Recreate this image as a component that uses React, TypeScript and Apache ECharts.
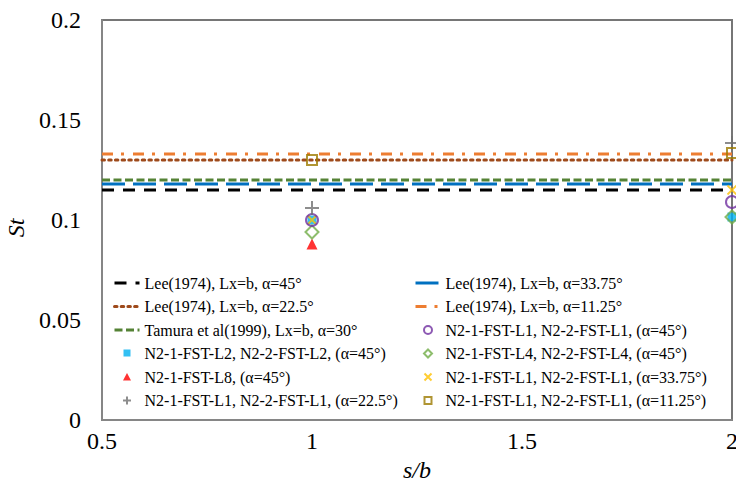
import React, { useEffect, useRef } from "react";
import * as echarts from "echarts";

// ---- data ----
const xRange = [0.5, 2];
const xTicks = [0.5, 1, 1.5, 2];
const yTicks = [0, 0.05, 0.1, 0.15, 0.2];

const leeA45 = 0.115;
const leeA3375 = 0.118;
const leeA225 = 0.13;
const leeA1125 = 0.133;
const tamuraA30 = 0.12;

const sbValues = [1, 2];
const l1a45 = [0.1, 0.109];
const l2a45 = [0.1, 0.1015];
const l4a45 = [0.094, 0.1015];
const l8a45x = [1];
const l8a45 = [0.088];
const l1a3375 = [0.1, 0.115];
const l1a225 = [0.106, 0.1385];
const l1a1125 = [0.13, 0.1335];

const names = {
  leeA45: "Lee(1974), Lx=b, α=45°",
  leeA3375: "Lee(1974), Lx=b, α=33.75°",
  leeA225: "Lee(1974), Lx=b, α=22.5°",
  leeA1125: "Lee(1974), Lx=b, α=11.25°",
  tamura: "Tamura et al(1999), Lx=b, α=30°",
  l1a45: "N2-1-FST-L1, N2-2-FST-L1, (α=45°)",
  l2a45: "N2-1-FST-L2, N2-2-FST-L2, (α=45°)",
  l4a45: "N2-1-FST-L4, N2-2-FST-L4, (α=45°)",
  l8a45: "N2-1-FST-L8, (α=45°)",
  l1a3375: "N2-1-FST-L1, N2-2-FST-L1, (α=33.75°)",
  l1a225: "N2-1-FST-L1, N2-2-FST-L1, (α=22.5°)",
  l1a1125: "N2-1-FST-L1, N2-2-FST-L1, (α=11.25°)",
};

const FONT = "'Liberation Serif', 'Times New Roman', serif";
const CROSS = "path://M0,0 L10,10 M10,0 L0,10";
const PLUS = "path://M5,0 L5,10 M0,5 L10,5";
const CLEAR = "rgba(0,0,0,0)";
const lineNames = [names.leeA45, names.leeA3375, names.leeA225, names.leeA1125, names.tamura];

// legend icons: drawn inside a 25x9 box (the two leading moveTo points fix the box)
const BOX = "path://M0,0 M25,9 ";
const legendIcons: Record<string, string> = {
  [names.l2a45]: BOX + "M9,0.5 L16,0.5 L16,7.5 L9,7.5 Z",
  [names.l8a45]: BOX + "M12.5,0.5 L16.5,8 L8.5,8 Z",
  [names.l1a225]: BOX + "M12.5,0.5 L12.5,8.5 M8.5,4.5 L16.5,4.5",
  [names.l1a45]: BOX + "M16.5,4.5 A4,4 0 1 1 8.5,4.5 A4,4 0 1 1 16.5,4.5 Z",
  [names.l4a45]: BOX + "M12.5,0.5 L16.5,4.5 L12.5,8.5 L8.5,4.5 Z",
  [names.l1a3375]: BOX + "M9,1 L16,8 M16,1 L9,8",
  [names.l1a1125]: BOX + "M9,1 L16,1 L16,8 L9,8 Z",
};

function hline(name: string, v: number, color: string, type: any, width = 3, cap = "butt") {
  return {
    name,
    type: "line",
    symbol: "none",
    z: 2,
    lineStyle: { color, width, type, cap },
    itemStyle: { color: CLEAR, borderColor: CLEAR, borderWidth: 0 },
    data: xRange.map((x) => [x, v]),
  };
}

function pts(xs: number[], ys: number[]) {
  return xs.map((x, i) => [x, ys[i]]);
}

function legendItems(list: string[]) {
  return list.map((n) =>
    lineNames.includes(n)
      ? {
          name: n,
          itemStyle: { color: CLEAR, borderColor: CLEAR, borderWidth: 0, opacity: 0 },
          lineStyle: { width: 3 },
        }
      : { name: n, icon: legendIcons[n] }
  );
}

export default function App() {
  const ref = useRef<HTMLDivElement>(null);
  useEffect(() => {
    document.body.style.margin = "0";
    const chart = echarts.init(ref.current!, null, { renderer: "svg" });
    const legendCommon = {
      orient: "vertical",
      top: 275,
      itemWidth: 25,
      itemHeight: 9,
      itemGap: 7.5,
      textStyle: { fontFamily: FONT, fontSize: 16, color: "#000", lineHeight: 16 },
      padding: 0,
    };
    const axisName = { fontFamily: FONT, fontSize: 24, fontStyle: "italic", color: "#000" };
    const tickRich = { t: { fontFamily: FONT, fontSize: 24, color: "#000", lineHeight: 24 } };
    chart.setOption({
      animation: false,
      textStyle: { fontFamily: FONT },
      grid: {
        left: 102,
        top: 20,
        right: 4,
        bottom: 63,
        containLabel: false,
        outerBoundsMode: "none",
        show: true,
        borderColor: "#767676",
        borderWidth: 2,
        backgroundColor: "#fff",
      },
      legend: [
        {
          ...legendCommon,
          left: 113,
          data: legendItems([names.leeA45, names.leeA225, names.tamura, names.l2a45, names.l8a45, names.l1a225]),
        },
        {
          ...legendCommon,
          left: 414,
          data: legendItems([names.leeA3375, names.leeA1125, names.l1a45, names.l4a45, names.l1a3375, names.l1a1125]),
        },
      ],
      xAxis: {
        type: "value",
        min: xTicks[0],
        max: xTicks[xTicks.length - 1],
        interval: 0.5,
        name: "s/b",
        nameLocation: "middle",
        nameGap: 38,
        nameTextStyle: { ...axisName, lineHeight: 24 },
        axisLine: { show: true, lineStyle: { color: "#868686", width: 2 } },
        axisTick: { show: false },
        splitLine: { show: false },
        axisLabel: {
          fontFamily: FONT,
          fontSize: 24,
          color: "#000",
          margin: 9,
          formatter: "{t|{value}}",
          rich: tickRich,
        },
      },
      yAxis: {
        type: "value",
        min: yTicks[0],
        max: yTicks[yTicks.length - 1],
        interval: 0.05,
        name: "St",
        nameLocation: "middle",
        nameGap: 64,
        nameTextStyle: { ...axisName, padding: [0, 16, 0, 0] },
        axisLine: { show: true, lineStyle: { color: "#868686", width: 2 } },
        axisTick: { show: false },
        splitLine: { show: false },
        axisLabel: {
          fontFamily: FONT,
          fontSize: 24,
          color: "#000",
          margin: 21,
          formatter: "{t|{value}}",
          rich: tickRich,
        },
      },
      series: [
        hline(names.leeA45, leeA45, "#000000", [12, 9]),
        hline(names.leeA3375, leeA3375, "#0070C0", [23, 8]),
        hline(names.leeA225, leeA225, "#9E4A1B", [2.5, 4.2], 3, "round"),
        hline(names.leeA1125, leeA1125, "#ED7D31", [11, 8, 3, 9]),
        hline(names.tamura, tamuraA30, "#548235", [8, 3.5]),
        {
          name: names.l8a45,
          type: "scatter",
          symbol: "triangle",
          symbolSize: 11,
          z: 3,
          itemStyle: { color: "#FF0000" },
          data: pts(l8a45x, l8a45),
        },
        {
          name: names.l2a45,
          type: "scatter",
          symbol: "rect",
          symbolSize: 9,
          z: 3,
          itemStyle: { color: "#00B0F0" },
          data: pts(sbValues, l2a45),
        },
        {
          name: names.l4a45,
          type: "scatter",
          symbol: "diamond",
          symbolSize: 13,
          z: 4,
          itemStyle: { color: CLEAR, borderColor: "#70AD47", borderWidth: 2 },
          data: pts(sbValues, l4a45),
        },
        {
          name: names.l1a3375,
          type: "scatter",
          symbol: CROSS,
          symbolSize: 9,
          z: 4,
          itemStyle: { color: CLEAR, borderColor: "#FFC000", borderWidth: 1.8 },
          data: pts(sbValues, l1a3375),
        },
        {
          name: names.l1a45,
          type: "scatter",
          symbol: "circle",
          symbolSize: 12,
          z: 4,
          itemStyle: { color: CLEAR, borderColor: "#7030A0", borderWidth: 2 },
          data: pts(sbValues, l1a45),
        },
        {
          name: names.l1a225,
          type: "scatter",
          symbol: PLUS,
          symbolSize: 14,
          z: 4,
          itemStyle: { color: CLEAR, borderColor: "#707070", borderWidth: 2 },
          data: pts(sbValues, l1a225),
        },
        {
          name: names.l1a1125,
          type: "scatter",
          symbol: "rect",
          symbolSize: 10,
          z: 4,
          itemStyle: { color: CLEAR, borderColor: "#9C7A00", borderWidth: 2 },
          data: pts(sbValues, l1a1125),
        },
      ],
    });
    return () => chart.dispose();
  }, []);
  return <div ref={ref} style={{ width: 736, height: 483 }} />;
}
